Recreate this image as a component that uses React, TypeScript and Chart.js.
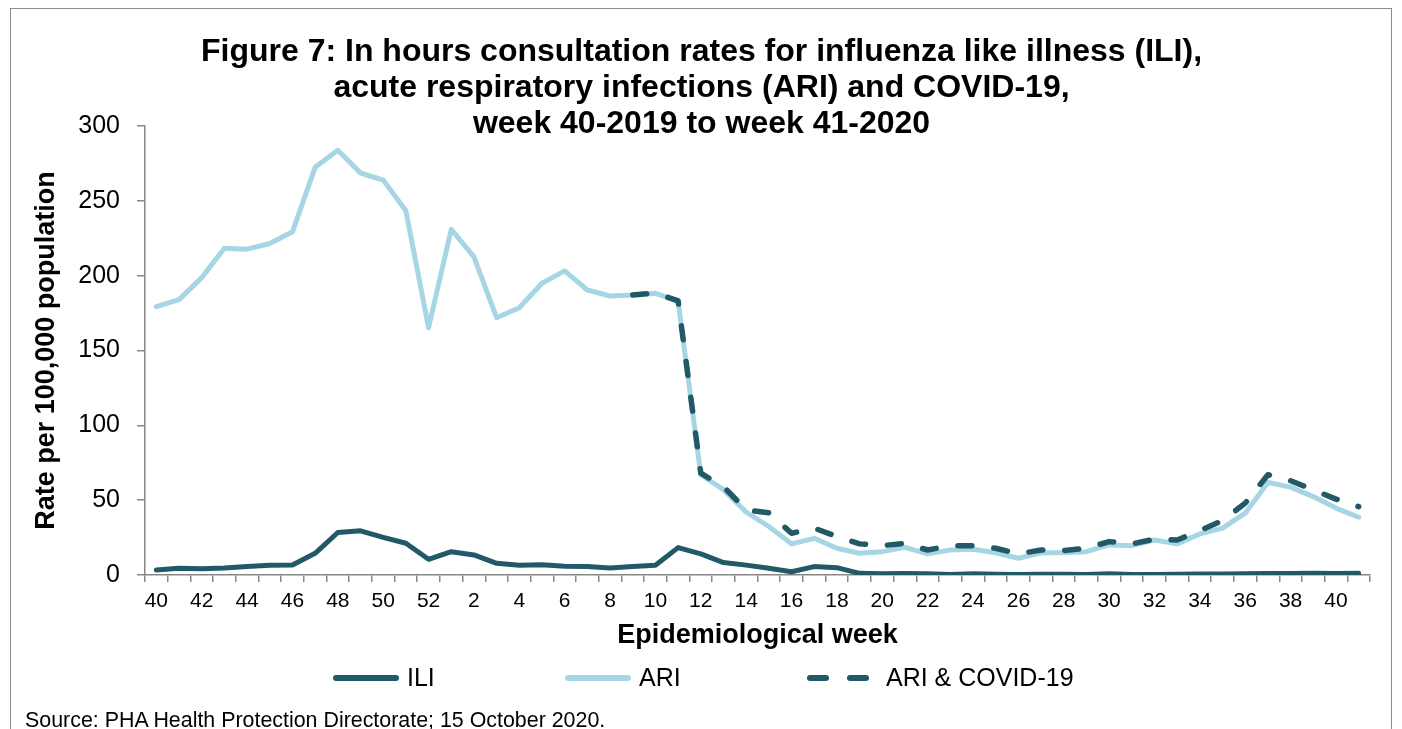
import React, { useEffect, useRef } from 'react';
import { Chart, registerables } from 'chart.js';

Chart.register(...registerables);

// ---------- Data ----------
const weeks = [
  '40', '41', '42', '43', '44', '45', '46', '47', '48', '49', '50', '51', '52',
  '1', '2', '3', '4', '5', '6', '7', '8', '9', '10', '11', '12', '13', '14', '15',
  '16', '17', '18', '19', '20', '21', '22', '23', '24', '25', '26', '27', '28', '29',
  '30', '31', '32', '33', '34', '35', '36', '37', '38', '39', '40', '41',
];

const iliRates = [
  3.3, 4.5, 4.2, 4.7, 5.6, 6.5, 6.7, 14.5, 28.4, 29.5, 25.2, 21.2, 10.5,
  15.6, 13.4, 7.8, 6.5, 6.9, 5.8, 5.6, 4.7, 5.6, 6.5, 18.3, 14.1, 8.3, 6.6, 4.5,
  2.2, 5.6, 4.9, 1.1, 0.8, 1.0, 0.9, 0.3, 0.8, 0.5, 0.3, 0.5, 0.5, 0.4,
  0.8, 0.3, 0.4, 0.5, 0.6, 0.7, 0.9, 1.0, 1.0, 1.1, 1.0, 1.2,
];

const ariRates = [
  179.3, 184, 198.7, 218.3, 217.7, 221.5, 229.3, 272.4, 283.8, 268.6, 263.9, 243.4, 165.2,
  231, 212.5, 171.9, 178.6, 194.9, 203.2, 190.4, 186.4, 187.1, 188.2, 183.1, 67, 57, 42, 32.4,
  20.8, 24.5, 17.9, 14.5, 15.6, 18.5, 14.1, 16.7, 17.2, 14.9, 11.2, 14.9, 14.9, 15.6,
  20.1, 19.6, 23.4, 20.8, 27.5, 31.3, 41.3, 61.8, 58.7, 52.4, 44.7, 38.6,
];

const ariCovidRates = [
  null, null, null, null, null, null, null, null, null, null, null, null, null,
  null, null, null, null, null, null, null, null, 187.1, 188.5, 183.1, 68, 59, 43.5, 41.5,
  27.9, 31.3, 25.7, 20.8, 19.6, 21.2, 16.7, 19.6, 19.6, 17.9, 14.1, 16.7, 16.3, 17.9,
  22.3, 20.8, 23.9, 23.4, 29.7, 36.4, 48, 67, 63, 56.9, 50.7, 45.7,
];

const seriesNames = ['ILI', 'ARI', 'ARI & COVID-19'];

const titleLines = [
  'Figure 7: In hours consultation rates for influenza like illness (ILI),',
  'acute respiratory infections (ARI) and COVID-19,',
  'week 40-2019 to week 41-2020',
];
const yAxisTitle = 'Rate per 100,000 population';
const xAxisTitle = 'Epidemiological week';
const sourceNote = 'Source: PHA Health Protection Directorate; 15 October 2020.';

// ---------- Styles ----------
const DARK = '#225968';
const LIGHT = '#a6d6e3';
const AXIS = '#878787';
const FONT = "'Liberation Sans', Arial, Helvetica, sans-serif";

const legendPlugin = {
  id: 'customLegend',
  afterDraw(chart: any) {
    const ctx = chart.ctx as CanvasRenderingContext2D;
    const y = 669;
    const start = chart.width / 2 - 368;
    const offsets = [0, 232, 474];
    const textGap = [74, 74, 79];
    ctx.save();
    chart.data.datasets.forEach((ds: any, i: number) => {
      const x = start + offsets[i];
      ctx.beginPath();
      ctx.lineWidth = 6;
      ctx.lineCap = 'round';
      ctx.strokeStyle = ds.borderColor;
      if (ds.borderDash && ds.borderDash.length) {
        ctx.setLineDash([16, 24]);
      } else {
        ctx.setLineDash([]);
      }
      ctx.moveTo(x + 3, y);
      ctx.lineTo(x + 63, y);
      ctx.stroke();
      ctx.setLineDash([]);
      ctx.fillStyle = '#000';
      ctx.font = `25px ${FONT}`;
      ctx.textBaseline = 'middle';
      ctx.textAlign = 'left';
      ctx.fillText(ds.label, x + textGap[i], y + 1);
    });
    ctx.restore();
  },
};

export default function App() {
  const canvasRef = useRef<HTMLCanvasElement | null>(null);

  useEffect(() => {
    if (!canvasRef.current) return;
    Chart.defaults.font.family = FONT;
    Chart.defaults.color = '#000';

    const chart = new Chart(canvasRef.current, {
      type: 'line',
      data: {
        labels: weeks,
        datasets: [
          {
            label: seriesNames[0],
            data: iliRates,
            borderColor: DARK,
            backgroundColor: DARK,
            borderWidth: 5,
            pointRadius: 0,
            tension: 0,
            borderCapStyle: 'round',
            borderJoinStyle: 'round',
            order: 0,
          },
          {
            label: seriesNames[1],
            data: ariRates,
            borderColor: LIGHT,
            backgroundColor: LIGHT,
            borderWidth: 5,
            pointRadius: 0,
            tension: 0,
            borderCapStyle: 'round',
            borderJoinStyle: 'round',
            order: 2,
          },
          {
            label: seriesNames[2],
            data: ariCovidRates,
            borderColor: DARK,
            backgroundColor: DARK,
            borderWidth: 5.5,
            borderDash: [14, 22],
            pointRadius: 0,
            tension: 0,
            borderCapStyle: 'round',
            borderJoinStyle: 'round',
            spanGaps: false,
            order: 1,
          },
        ],
      },
      options: {
        animation: false,
        responsive: false,
        devicePixelRatio: 1,
        layout: { padding: { left: 22, right: 21, top: 0, bottom: 58 } },
        plugins: {
          legend: { display: false },
          tooltip: { enabled: false },
          title: {
            display: true,
            text: titleLines,
            color: '#000',
            font: { size: 32, weight: 'bold', lineHeight: 36 / 32 },
            padding: { top: 25, bottom: -16 },
          },
        },
        scales: {
          x: {
            type: 'category',
            offset: true,
            grid: {
              offset: true,
              drawOnChartArea: false,
              drawTicks: true,
              tickLength: 7,
              color: AXIS,
              lineWidth: 1.5,
            },
            border: { display: true, color: AXIS, width: 1.5 },
            ticks: {
              autoSkip: false,
              maxRotation: 0,
              minRotation: 0,
              padding: 7,
              color: '#000',
              font: { size: 21 },
              callback: function (this: any, value: any, index: number) {
                return index % 2 === 0 ? weeks[index] : '';
              },
            },
            title: {
              display: true,
              text: xAxisTitle,
              color: '#000',
              font: { size: 27, weight: 'bold', lineHeight: 1 },
              padding: { top: 0, bottom: 2 },
            },
            afterFit: (scale: any) => {
              scale.height = 76;
            },
          },
          y: {
            min: 0,
            max: 300,
            grid: {
              drawOnChartArea: false,
              drawTicks: true,
              tickLength: 8,
              color: AXIS,
              lineWidth: 1.5,
            },
            border: { display: true, color: AXIS, width: 1.5 },
            ticks: {
              stepSize: 50,
              padding: 17,
              color: '#000',
              font: { size: 25 },
            },
            title: {
              display: true,
              text: yAxisTitle,
              color: '#000',
              font: { size: 27, weight: 'bold', lineHeight: 1 },
              padding: { top: 0, bottom: 0 },
            },
            afterFit: (scale: any) => {
              scale.width = 112;
            },
          },
        },
      },
      plugins: [legendPlugin],
    } as any);

    return () => chart.destroy();
  }, []);

  return (
    <div
      style={{
        position: 'absolute',
        left: 10,
        top: 8,
        width: 1382,
        height: 721,
        border: '1px solid #8c8c8c',
        borderBottom: 'none',
        boxSizing: 'border-box',
        background: '#fff',
        overflow: 'hidden',
      }}
    >
      <canvas
        ref={canvasRef}
        width={1380}
        height={700}
        style={{ position: 'absolute', left: 0, top: 0, display: 'block' }}
      />
      <div
        style={{
          position: 'absolute',
          left: 14,
          top: 699,
          fontFamily: FONT,
          fontSize: 21.4,
          lineHeight: '24px',
          color: '#000',
          whiteSpace: 'nowrap',
        }}
      >
        {sourceNote}
      </div>
    </div>
  );
}
